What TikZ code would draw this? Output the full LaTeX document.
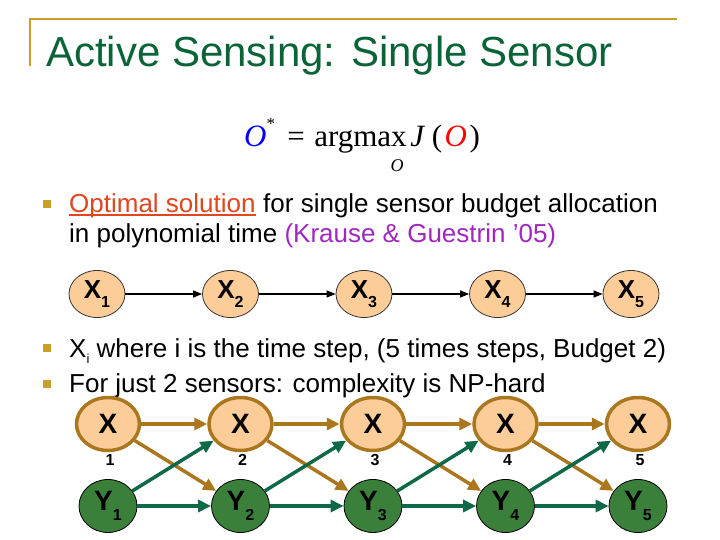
\documentclass[tikz,border=0pt]{standalone}
\usepackage{fontspec}
\setmainfont{Liberation Sans}
\newfontfamily\seriffont{Liberation Serif}
\usetikzlibrary{arrows.meta,shapes.geometric}
\definecolor{titlegreen}{RGB}{10,100,55}
\definecolor{goldline}{RGB}{200,160,40}
\definecolor{optred}{RGB}{225,70,30}
\definecolor{refpurple}{RGB}{160,40,190}
\definecolor{peach}{RGB}{252,204,153}
\definecolor{xbrown}{RGB}{170,118,30}
\definecolor{ygreen}{RGB}{58,128,58}
\definecolor{egreen}{RGB}{15,105,70}
\tikzset{
  txt/.style={anchor=base west, inner sep=0pt, font=\fontsize{26}{31}\selectfont},
  bulletbox/.style={rectangle, fill=goldline, minimum size=8pt, inner sep=0pt},
  chainnode/.style={ellipse, minimum width=56pt, minimum height=47pt, inner sep=0pt,
    fill=peach, draw=black!80, line width=0.8pt, font=\bfseries\fontsize{26}{26}\selectfont},
  chainarrow/.style={-{Triangle[length=9pt,width=7pt]}, line width=1.3pt, black},
  xnode/.style={ellipse, minimum width=63pt, minimum height=53pt, inner sep=0pt,
    fill=peach, draw=xbrown, line width=3.5pt, font=\bfseries\fontsize{28}{28}\selectfont},
  ynode/.style={ellipse, minimum width=58pt, minimum height=53pt, inner sep=0pt,
    fill=ygreen, draw=black, line width=0.8pt, font=\bfseries\fontsize{28}{28}\selectfont},
  numlabel/.style={inner sep=0pt, font=\bfseries\fontsize{16}{16}\selectfont},
  brownedge/.style={-{Triangle[length=13pt,width=12pt]}, line width=3.5pt, xbrown},
  greenedge/.style={-{Triangle[length=13pt,width=12pt]}, line width=3.5pt, egreen},
}
\newcommand{\subsc}[1]{\raisebox{-0.35em}{\fontsize{16}{16}\selectfont #1}}
\begin{document}
\begin{tikzpicture}[x=1pt,y=-1pt]
\useasboundingbox (0,0) rectangle (720,540);
\fill[white] (0,0) rectangle (720,540);
% title bar
\draw[goldline, line width=2.5pt] (30,66.5) -- (30,19) -- (677,19);
\node[anchor=base west, inner sep=0pt, text=titlegreen, font=\fontsize{42}{50}\selectfont] (title) at (46,67) {Active Sensing: Single Sensor};
% formula
\node[anchor=base west, inner sep=0pt, font=\seriffont\fontsize{31}{36}\selectfont] (formula) at (244,147)
  {{\color{blue}\itshape O}\raisebox{0.55em}{\fontsize{17}{17}\selectfont *}\hspace{0.4em}=\hspace{0.3em}argmax\hspace{0.12em}{\itshape J}\hspace{0.25em}(\hspace{0.08em}{\color{red}\itshape O}\hspace{0.08em})};
\node[inner sep=0pt, font=\seriffont\itshape\fontsize{18}{18}\selectfont] (argsub) at (397,166) {O};
% bullet 1
\node[bulletbox] (b1) at (47,204) {};
\node[txt, text=optred] (opt) at (69,212) {Optimal solution};
\draw[optred, line width=1.8pt] ([yshift=-3pt]opt.base west) -- ([yshift=-3pt]opt.base east);
\node[txt] (t1) at (opt.base east) {\ for single sensor budget allocation};
\node[txt] (t1b) at (69,243) {in polynomial time \textcolor{refpurple}{(Krause \& Guestrin ’05)}};
% chain
\foreach \i in {1,...,5} {
  \node[chainnode] (c\i) at ({97+133.5*(\i-1)},294) {X\subsc{\i}};
}
\foreach \i/\j in {1/2,2/3,3/4,4/5} {
  \draw[chainarrow] (c\i) -- (c\j);
}
% bullets 2,3
\node[bulletbox] (b2) at (47,348) {};
\node[txt] (t2) at (69,357) {X\raisebox{-0.25em}{\fontsize{13}{13}\selectfont i} where i is the time step, (5 times steps, Budget 2)};
\node[bulletbox] (b3) at (47,384) {};
\node[txt] (t3) at (69,392) {For just 2 sensors: complexity is NP-hard};
% bottom graph
\foreach \i in {1,...,5} {
  \node[xnode] (x\i) at ({108+132.5*(\i-1)},424) {X};
  \node[numlabel] (n\i) at ({110+132.5*(\i-1)},460) {\i};
  \node[ynode] (y\i) at ({108+132.5*(\i-1)},506) {Y\subsc{\i}};
}
\foreach \i/\j in {1/2,2/3,3/4,4/5} {
  \draw[brownedge] (x\i) -- (x\j);
  \draw[brownedge] (x\i) -- (y\j);
}
\foreach \i/\j in {1/2,2/3,3/4,4/5} {
  \draw[greenedge] (y\i) -- (x\j);
  \draw[greenedge] (y\i) -- (y\j);
}
\end{tikzpicture}
\end{document}
